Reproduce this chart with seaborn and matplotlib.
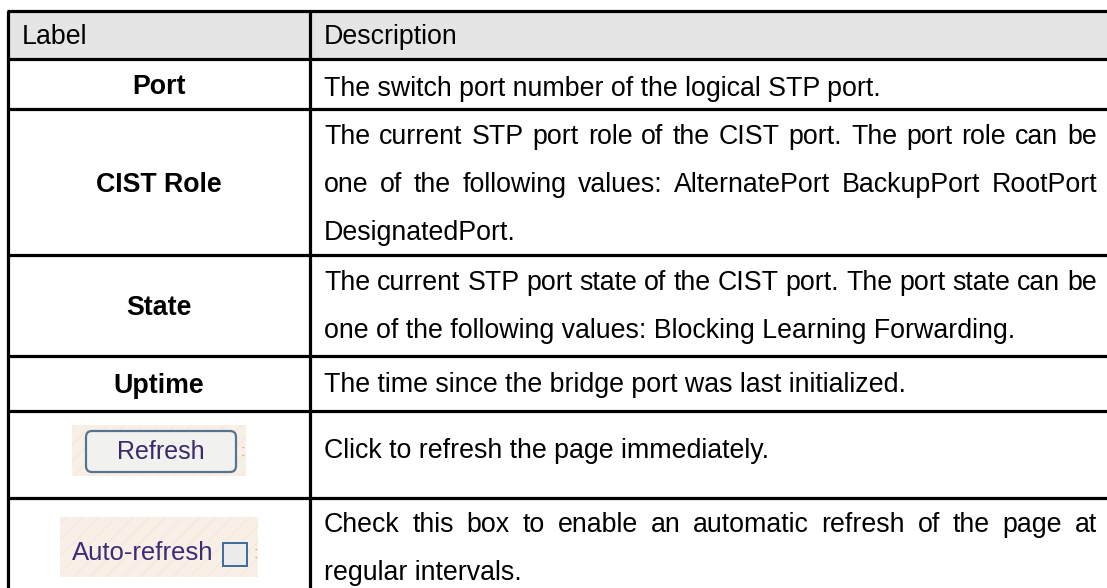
import matplotlib
matplotlib.use('Agg')
import matplotlib.pyplot as plt
import seaborn as sns
from matplotlib.patches import Rectangle, FancyBboxPatch

sns.set_theme(style='white')
plt.rcParams['font.family'] = ['Liberation Sans', 'DejaVu Sans']
plt.rcParams['text.color'] = 'black'
plt.rcParams['hatch.linewidth'] = 0.6

# table content
header = ['Label', 'Description']
labels = ['Port', 'CIST Role', 'State', 'Uptime', 'Refresh', 'Auto-refresh']
descriptions = [
    ['The switch port number of the logical STP port.'],
    ['The current STP port role of the CIST port. The port role can be',
     'one of the following values: AlternatePort BackupPort RootPort',
     'DesignatedPort.'],
    ['The current STP port state of the CIST port. The port state can be',
     'one of the following values: Blocking Learning Forwarding.'],
    ['The time since the bridge port was last initialized.'],
    ['Click to refresh the page immediately.'],
    ['Check this box to enable an automatic refresh of the page at',
     'regular intervals.'],
]

# layout (pixels)
W, H = 1107, 588
x_left, x_mid, x_right = 8, 310, 1097
row_edges = [11, 59, 109, 255, 356, 411, 498, 588]
text_centers = [[86], [134, 182, 230], [281, 329], [383], [449], [523, 571]]
fs = 19.3
base_off = 9.5
lw = 2.3

fig = plt.figure(figsize=(W / 100, H / 100), dpi=100)
ax = fig.add_axes([0, 0, 1, 1])
ax.set_xlim(0, W)
ax.set_ylim(H, 0)
ax.axis('off')
renderer = fig.canvas.get_renderer()

# header background
ax.add_patch(Rectangle((x_left, row_edges[0]), W - x_left, row_edges[1] - row_edges[0],
                       facecolor='#e5e5e5', edgecolor='none', zorder=0))

# grid lines
for y in row_edges[:-1]:
    ax.plot([x_left - 1.5, W], [y, y], color='black', lw=lw, solid_capstyle='butt', zorder=3)
for x in [x_left, x_mid]:
    ax.plot([x, x], [row_edges[0], H], color='black', lw=lw, solid_capstyle='butt', zorder=3)


def draw_line(text, y, justify):
    x0 = x_mid + 14
    words = text.split(' ')
    if not justify or len(words) < 2:
        ax.text(x0, y + base_off, text, fontsize=fs, ha='left', va='baseline')
        return
    objs = [ax.text(0, y + base_off, w, fontsize=fs, ha='left', va='baseline') for w in words]
    widths = [o.get_window_extent(renderer).width for o in objs]
    gap = (x_right - x0 - sum(widths)) / (len(words) - 1)
    x = x0
    for o, w in zip(objs, widths):
        o.set_x(x)
        x += w + gap


# header row
hy = (row_edges[0] + row_edges[1]) / 2 + base_off
ax.text(x_left + 14, hy, header[0], fontsize=fs, ha='left', va='baseline')
ax.text(x_mid + 14, hy, header[1], fontsize=fs, ha='left', va='baseline')

label_x = (x_left + x_mid) / 2
for i, (lab, desc) in enumerate(zip(labels, descriptions)):
    top, bot = row_edges[i + 1], row_edges[i + 2]
    mid = (top + bot) / 2
    n = len(desc)
    for j, line in enumerate(desc):
        draw_line(line, text_centers[i][j], justify=(j < n - 1))
    if lab == 'Refresh':
        ax.add_patch(Rectangle((72, 425), 174, 51, facecolor='#f8f0e7', edgecolor='#f1e6d8',
                               hatch='//', lw=0, zorder=1))
        ax.add_patch(FancyBboxPatch((86, 431), 150, 41, boxstyle='round,pad=0,rounding_size=6',
                                    facecolor='#f1f1ef', edgecolor='#58738f', lw=1.6, zorder=2))
        ax.text(161, 452, lab, fontsize=18, ha='center', va='center', color='#3b2a6a', zorder=3)
        ax.text(243, 452, ':', fontsize=12, ha='center', va='center', color='#e0a030', zorder=3)
    elif lab == 'Auto-refresh':
        ax.add_patch(Rectangle((60, 517), 198, 60, facecolor='#f8f0e7', edgecolor='#f1e6d8',
                               hatch='//', lw=0, zorder=1))
        ax.text(72, 553, lab, fontsize=18.5, ha='left', va='center', color='#3f2a78', zorder=3)
        ax.add_patch(Rectangle((223, 543), 24, 23, facecolor='#ececec', edgecolor='#3d6b98',
                               lw=1.4, zorder=2))
        ax.text(256, 553, ':', fontsize=12, ha='center', va='center', color='#e0a030', zorder=3)
    else:
        ax.text(label_x, mid + base_off, lab, fontsize=fs, fontweight='bold', ha='center',
                va='baseline')

fig.savefig('out.png', dpi=100)
